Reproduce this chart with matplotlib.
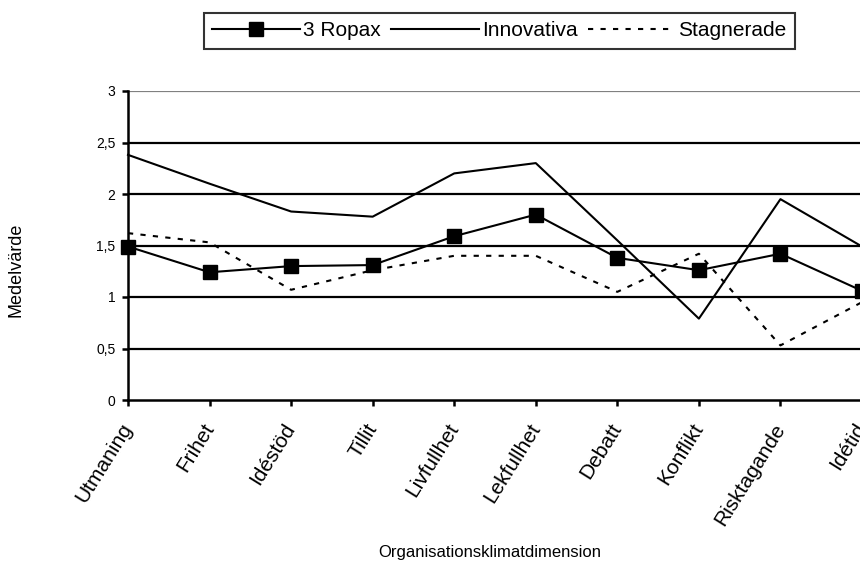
import matplotlib.pyplot as plt
from matplotlib.lines import Line2D

plt.rcParams['font.family'] = ['Liberation Sans', 'DejaVu Sans']

# categories on the x axis
categories = ["Utmaning", "Frihet", "Idéstöd", "Tillit", "Livfullhet",
              "Lekfullhet", "Debatt", "Konflikt", "Risktagande", "Idétid"]

# mean values per group
ropax = [1.49, 1.24, 1.30, 1.31, 1.59, 1.80, 1.38, 1.26, 1.42, 1.06]
innovativa = [2.38, 2.10, 1.83, 1.78, 2.20, 2.30, 1.55, 0.79, 1.95, 1.49]
stagnerade = [1.62, 1.53, 1.07, 1.26, 1.40, 1.40, 1.05, 1.42, 0.53, 0.95]

y_ticks = [0, 0.5, 1, 1.5, 2, 2.5, 3]
y_labels = ["0", "0,5", "1", "1,5", "2", "2,5", "3"]

fig = plt.figure(figsize=(8.6, 5.68), dpi=100)
ax = fig.add_axes([128 / 860, 168 / 568, 734 / 860, 309 / 568])

x = list(range(len(categories)))

# gridlines (black), top one grey
for yv in y_ticks[1:-1]:
    ax.axhline(yv, color='black', lw=1.6, zorder=1)
ax.axhline(3, color='#808080', lw=1.6, zorder=1)

ax.plot(x, innovativa, color='black', lw=1.5, zorder=3, clip_on=False)
ax.plot(x, stagnerade, color='black', lw=1.5, ls=(0, (2.5, 3.5)), zorder=3, clip_on=False)
ax.plot(x, ropax, color='black', lw=1.5, marker='s', markersize=10, zorder=4, clip_on=False)

ax.set_xlim(0, len(categories) - 1)
ax.set_ylim(0, 3)
ax.set_yticks(y_ticks)
ax.set_yticklabels(y_labels, fontsize=10)
ax.set_xticks(x)
ax.set_xticklabels(categories, fontsize=15, rotation=58, ha='right', va='center',
                   rotation_mode='anchor')

for side in ['top', 'right']:
    ax.spines[side].set_visible(False)
for side in ['left', 'bottom']:
    ax.spines[side].set_linewidth(1.8)
ax.tick_params(axis='both', width=1.8, length=4, color='black', direction='out')
ax.tick_params(axis='x', pad=14)
ax.tick_params(axis='y', pad=5)

fig.text(490 / 860, 1 - 553 / 568, "Organisationsklimatdimension", fontsize=12,
         ha='center', va='center')
fig.text(16 / 860, 1 - 270 / 568, "Medelvärde", fontsize=13, rotation=90,
         ha='center', va='center')

handles = [
    Line2D([], [], color='black', lw=1.5, marker='s', markersize=10),
    Line2D([], [], color='black', lw=1.5),
    Line2D([], [], color='black', lw=1.5, ls=(0, (2.5, 3.5))),
]
leg = fig.legend(handles, ["3 Ropax", "Innovativa", "Stagnerade"], ncol=3,
                 loc='center', bbox_to_anchor=(499.5 / 860, 1 - 31 / 568),
                 fontsize=15, frameon=True, fancybox=False, handlelength=4.2,
                 handletextpad=0.15, columnspacing=0.5, borderpad=0.4,
                 borderaxespad=0)
leg.get_frame().set_edgecolor('black')
leg.get_frame().set_linewidth(1.5)

fig.savefig('out.png', dpi=100)
